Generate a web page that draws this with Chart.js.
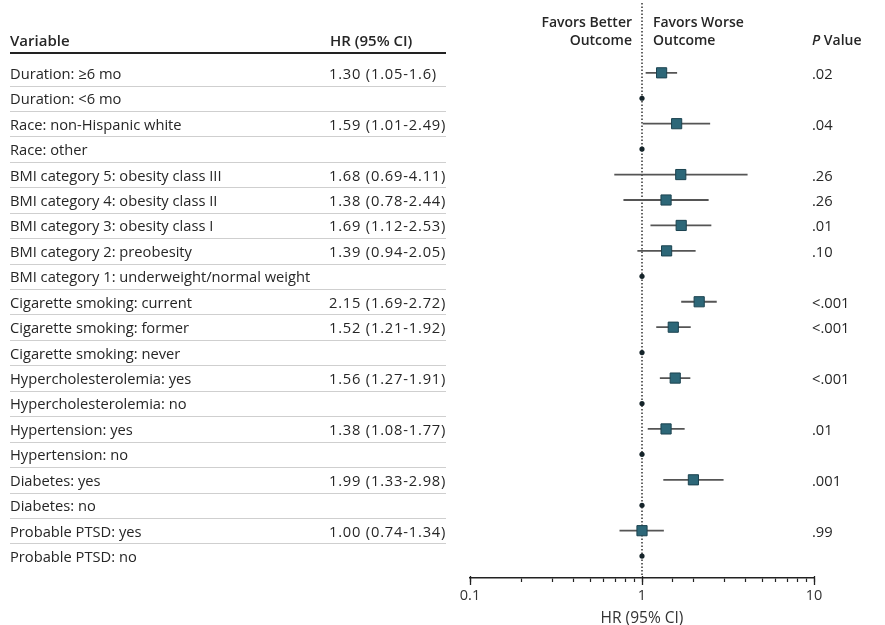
<!DOCTYPE html>
<html>
<head>
<meta charset="utf-8">
<script src="https://cdn.jsdelivr.net/npm/chart.js@4.4.1/dist/chart.umd.min.js"></script>
<style>
  html, body { margin: 0; padding: 0; background: #fff; }
  #wrap { position: relative; width: 885px; height: 625px; overflow: hidden;
          font-family: "Open Sans", sans-serif; color: #262626; font-size: 14.7px; }
  #wrap canvas { position: absolute; left: 0; top: 0; }
  .t { position: absolute; white-space: nowrap; line-height: 18px; transform: translateY(-50%); }
  .num { letter-spacing: 0.8px; }
  .hd { font-weight: 600; font-size: 14px; }
  .hd2 { font-weight: 600; font-size: 15px; }
  .sep { position: absolute; left: 10px; width: 436px; height: 1px; background: #cfcfcf; }
  .thick { position: absolute; left: 10px; width: 436px; height: 2px; background: #222; top: 52px; }
</style>
</head>
<body>
<div id="wrap">
  <canvas id="forest" width="885" height="626"></canvas>
  <div class="t hd2" style="left:10px; top:40px;">Variable</div>
  <div class="t hd2" style="left:330px; top:40px;">HR (95% CI)</div>
  <div class="thick"></div>
  <div class="t hd" style="right:253px; top:22px; text-align:right;">Favors Better</div>
  <div class="t hd" style="right:253px; top:40px; text-align:right;">Outcome</div>
  <div class="t hd" style="left:653px; top:22px;">Favors Worse</div>
  <div class="t hd" style="left:653px; top:40px;">Outcome</div>
  <div class="t hd" style="left:812px; top:40px;"><i>P</i> Value</div>
  <div id="rows"></div>
</div>
<script>
// -----------------------------
// DATA
// -----------------------------
const variables = [
  'Duration: \u22656 mo',
  'Duration: <6 mo',
  'Race: non-Hispanic white',
  'Race: other',
  'BMI category 5: obesity class III',
  'BMI category 4: obesity class II',
  'BMI category 3: obesity class I',
  'BMI category 2: preobesity',
  'BMI category 1: underweight/normal weight',
  'Cigarette smoking: current',
  'Cigarette smoking: former',
  'Cigarette smoking: never',
  'Hypercholesterolemia: yes',
  'Hypercholesterolemia: no',
  'Hypertension: yes',
  'Hypertension: no',
  'Diabetes: yes',
  'Diabetes: no',
  'Probable PTSD: yes',
  'Probable PTSD: no'
];
const hr      = [1.30, null, 1.59, null, 1.68, 1.38, 1.69, 1.39, null, 2.15, 1.52, null, 1.56, null, 1.38, null, 1.99, null, 1.00, null];
const ciLow   = [1.05, null, 1.01, null, 0.69, 0.78, 1.12, 0.94, null, 1.69, 1.21, null, 1.27, null, 1.08, null, 1.33, null, 0.74, null];
const ciHigh  = [1.6,  null, 2.49, null, 4.11, 2.44, 2.53, 2.05, null, 2.72, 1.92, null, 1.91, null, 1.77, null, 2.98, null, 1.34, null];
const hrText  = ['1.30 (1.05-1.6)', '', '1.59 (1.01-2.49)', '', '1.68 (0.69-4.11)', '1.38 (0.78-2.44)',
                 '1.69 (1.12-2.53)', '1.39 (0.94-2.05)', '', '2.15 (1.69-2.72)', '1.52 (1.21-1.92)', '',
                 '1.56 (1.27-1.91)', '', '1.38 (1.08-1.77)', '', '1.99 (1.33-2.98)', '', '1.00 (0.74-1.34)', ''];
const pValues = ['.02', '', '.04', '', '.26', '.26', '.01', '.10', '', '<.001', '<.001', '',
                 '<.001', '', '.01', '', '.001', '', '.99', ''];
const xTickLabels = [0.1, 1, 10];

// y range (row index, reversed)
const Y_MIN = -2.54;
const Y_MAX = 19.86;

// -----------------------------
// DATASETS
// -----------------------------
const ciSets = [];
hr.forEach((v, i) => {
  if (v === null) return;
  ciSets.push({
    type: 'line',
    data: [{ x: ciLow[i], y: i }, { x: ciHigh[i], y: i }],
    borderColor: '#555',
    borderWidth: 1.8,
    pointRadius: 0,
    order: 2
  });
});

const squares = [];
const refDots = [];
hr.forEach((v, i) => {
  if (v === null) refDots.push({ x: 1, y: i });
  else squares.push({ x: v, y: i });
});

// longer tick marks at powers of ten
const majorTicks = {
  id: 'majorTicks',
  afterDraw(chart) {
    const sx = chart.scales.x;
    const ctx = chart.ctx;
    const y0 = chart.chartArea.bottom;
    ctx.save();
    ctx.strokeStyle = '#222';
    ctx.lineWidth = 1.3;
    xTickLabels.forEach(v => {
      const px = Math.round(sx.getPixelForValue(v)) + 0.5;
      ctx.beginPath();
      ctx.moveTo(px, y0 - 2);
      ctx.lineTo(px, y0 + 7);
      ctx.stroke();
    });
    ctx.restore();
  }
};

// -----------------------------
// TABLE ROWS (aligned to y scale)
// -----------------------------
const esc = s => s.replace('<', '&lt;');
const tableRows = {
  id: 'tableRows',
  afterLayout(chart) {
    const sy = chart.scales.y;
    const rows = document.getElementById('rows');
    let html = '';
    variables.forEach((name, i) => {
      const y = sy.getPixelForValue(i);
      html += `<div class="t" style="left:10px; top:${y}px;">${esc(name)}</div>`;
      if (hrText[i]) html += `<div class="t num" style="left:329px; top:${y}px;">${hrText[i]}</div>`;
      if (pValues[i]) html += `<div class="t" style="left:812px; top:${y}px;">${esc(pValues[i])}</div>`;
      if (i < variables.length - 1) {
        const ys = (sy.getPixelForValue(i) + sy.getPixelForValue(i + 1)) / 2;
        html += `<div class="sep" style="top:${Math.round(ys)}px;"></div>`;
      }
    });
    rows.innerHTML = html;
  }
};

// -----------------------------
// CHART
// -----------------------------
new Chart(document.getElementById('forest'), {
  type: 'scatter',
  data: {
    datasets: [
      {
        type: 'line',
        data: [{ x: 1, y: Y_MIN - 0.2 }, { x: 1, y: Y_MAX }],
        borderColor: '#333',
        borderWidth: 1.5,
        borderDash: [1.5, 2],
        pointRadius: 0,
        clip: false,
        order: 3
      },
      ...ciSets,
      {
        data: refDots,
        pointStyle: 'circle',
        pointRadius: 2.6,
        backgroundColor: '#15242a',
        borderColor: '#15242a',
        borderWidth: 0,
        order: 1
      },
      {
        data: squares,
        pointStyle: 'rect',
        pointRadius: 7.2,
        backgroundColor: '#2d6778',
        borderColor: '#1c4350',
        borderWidth: 1,
        order: 0
      }
    ]
  },
  options: {
    responsive: false,
    animation: false,
    events: [],
    layout: { padding: { left: 470, right: 71, top: 3, bottom: 0 } },
    plugins: { legend: { display: false }, tooltip: { enabled: false } },
    scales: {
      x: {
        type: 'logarithmic',
        min: 0.1,
        max: 10,
        border: { display: true, color: '#222', width: 1.5 },
        grid: { display: true, drawOnChartArea: false, drawTicks: true, tickLength: 4, color: '#222', tickWidth: 1.2 },
        ticks: {
          autoSkip: false,
          maxRotation: 0,
          padding: 7,
          color: '#333',
          font: { family: 'Open Sans', size: 14.5, lineHeight: 1 },
          callback: v => {
            const hit = xTickLabels.find(t => Math.abs(t - v) < 1e-9);
            return hit !== undefined ? String(hit) : '';
          }
        },
        title: {
          display: true,
          text: 'HR (95% CI)',
          color: '#333',
          font: { family: 'Open Sans', size: 15.5, lineHeight: 1 },
          padding: { top: 0, bottom: 0 }
        }
      },
      y: {
        type: 'linear',
        display: false,
        reverse: true,
        min: Y_MIN,
        max: Y_MAX
      }
    }
  },
  plugins: [majorTicks, tableRows]
});
</script>
</body>
</html>
